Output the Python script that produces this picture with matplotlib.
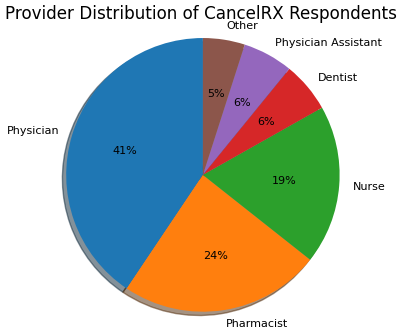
import matplotlib
matplotlib.use("Agg")
import matplotlib.pyplot as plt

labels = ["Physician", "Pharmacist", "Nurse", "Dentist", "Physician Assistant", "Other"]
counts = [41, 24, 19, 6, 6, 5]

fig = plt.figure(figsize=(4.01, 3.29), dpi=100)
ax = fig.add_axes([0.131, 0.011, 0.75, 0.915])
ax.pie(counts, labels=labels, autopct="%1.0f%%", shadow=True, startangle=90,
       textprops={"fontsize": 8})
ax.axis("equal")
fig.text(0.5, 0.985, "Provider Distribution of CancelRX Respondents",
         ha="center", va="top", fontsize=12.1)

plt.savefig("out.png", dpi=100)
